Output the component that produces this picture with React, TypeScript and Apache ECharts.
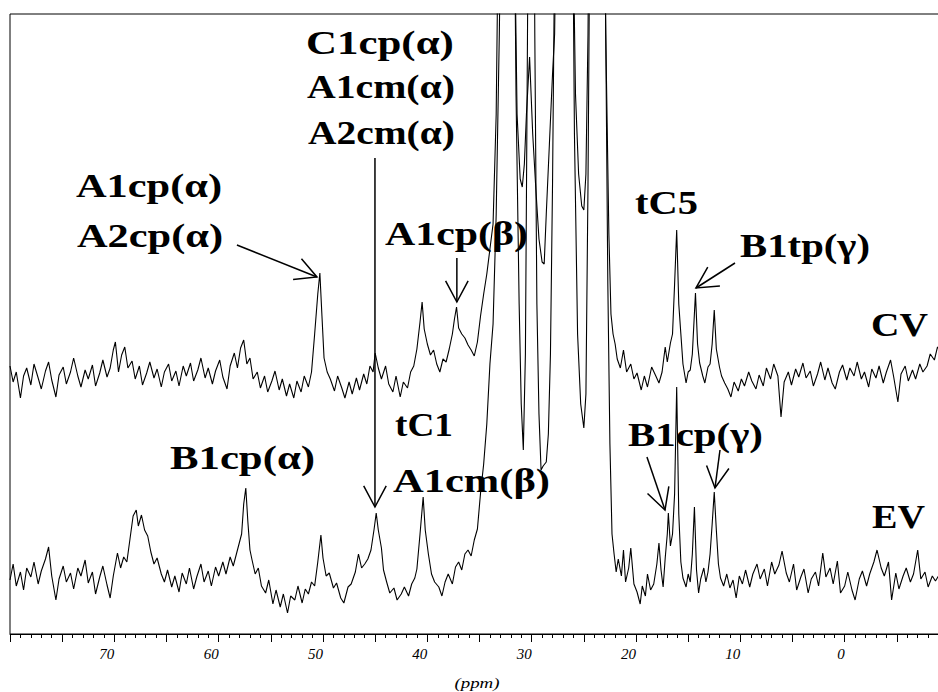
import React, { useEffect, useRef } from 'react';
import * as echarts from 'echarts';

// x-axis tick labels (ppm)
const xTickLabels = [70, 60, 50, 40, 30, 20, 10, 0];

// CV trace: [ppm, intensity]
const cvSpectrum: [number, number][] = [
  [80.0,268],[79.7,252],[79.4,262],[79.0,236],[78.7,258],[78.4,266],[78.0,249],[77.7,270],[77.3,256],[77.0,245],
  [76.6,263],[76.3,272],[76.0,254],[75.6,237],[75.3,259],[74.9,267],[74.6,250],[74.2,262],[73.9,276],[73.5,258],
  [73.2,247],[72.8,264],[72.5,255],[72.1,269],[71.8,248],[71.4,261],[71.1,274],[70.7,257],[70.4,266],[70.1,284],
  [69.9,292],[69.6,262],[69.3,279],[69.0,287],[68.7,266],[68.3,273],[68.0,255],[67.6,268],[67.3,249],[66.9,261],
  [66.6,272],[66.2,256],[65.9,265],[65.5,247],[65.2,262],[64.8,270],[64.5,253],[64.1,263],[63.8,248],[63.4,268],
  [63.1,258],[62.7,271],[62.4,253],[62.0,264],[61.7,276],[61.3,256],[61.0,266],[60.6,250],[60.3,263],[59.9,274],
  [59.6,257],[59.2,245],[58.9,268],[58.5,281],[58.2,266],[57.9,286],[57.6,294],[57.3,270],[57.0,276],[56.7,255],
  [56.3,262],[56.0,246],[55.6,258],[55.3,242],[54.9,253],[54.6,263],[54.2,244],[53.9,255],[53.5,238],[53.2,250],
  [52.8,236],[52.5,253],[52.1,242],[51.8,258],[51.4,247],[51.1,262],[50.8,300],[50.5,340],[50.3,361],[50.1,318],
  [49.9,276],[49.6,262],[49.3,255],[48.9,243],[48.6,258],[48.2,246],[47.9,236],[47.5,252],[47.2,240],[46.8,256],
  [46.5,244],[46.1,260],[45.8,250],[45.5,268],[45.2,262],[45.0,281],[44.7,266],[44.4,255],[44.0,268],[43.7,250],
  [43.3,242],[43.0,258],[42.6,237],[42.3,252],[41.9,246],[41.6,262],[41.3,268],[41.0,285],[40.7,312],[40.5,332],
  [40.3,305],[40.0,290],[39.7,279],[39.4,284],[39.1,270],[38.8,262],[38.5,275],[38.2,272],[37.9,285],[37.6,300],
  [37.4,315],[37.2,327],[37.0,306],[36.7,300],[36.4,296],[36.1,289],[35.8,284],[35.5,278],[35.2,292],[34.9,318],
  [34.6,340],[34.3,360],[34.0,385],[33.7,410],[33.4,520],[33.1,800],[32.8,1150],[32.4,1250],[32.0,1150],[31.7,750],
  [31.4,520],[31.1,455],[30.9,447],[30.7,470],[30.5,520],[30.2,577],[29.9,500],[29.6,445],[29.3,395],[29.0,372],
  [28.8,370],[28.6,420],[28.3,490],[28.0,560],[27.8,600],[27.5,850],[27.2,1200],[26.8,1300],[26.4,1200],[26.1,750],
  [25.8,540],[25.5,460],[25.2,428],[25.0,424],[24.8,460],[24.6,600],[24.3,1000],[23.9,1400],[23.5,1300],[23.2,900],
  [22.9,600],[22.6,400],[22.4,320],[22.2,300],[22.0,290],[21.8,275],[21.5,266],[21.2,284],[20.9,262],[20.5,270],
  [20.2,255],[19.9,261],[19.5,244],[19.2,258],[18.9,247],[18.5,267],[18.1,258],[17.8,251],[17.5,262],[17.2,287],
  [17.0,272],[16.7,291],[16.5,300],[16.3,350],[16.1,404],[15.9,330],[15.7,300],[15.5,270],[15.2,251],[15.0,262],
  [14.8,264],[14.6,280],[14.3,341],[14.1,290],[13.9,271],[13.6,258],[13.4,251],[13.1,267],[12.9,270],[12.7,290],
  [12.5,324],[12.3,285],[12.0,267],[11.8,258],[11.5,251],[11.2,245],[10.9,237],[10.6,252],[10.2,243],[9.9,255],
  [9.6,248],[9.2,262],[8.9,253],[8.5,245],[8.2,259],[7.8,248],[7.5,266],[7.1,255],[6.8,270],[6.4,258],
  [6.1,217],[5.8,252],[5.4,262],[5.1,249],[4.7,265],[4.4,257],[4.0,271],[3.7,256],[3.3,263],[3.0,248],
  [2.6,260],[2.3,272],[1.9,254],[1.6,266],[1.2,251],[0.9,245],[0.5,262],[0.2,269],[-0.2,254],[-0.5,266],
  [-0.9,258],[-1.2,272],[-1.6,255],[-1.9,262],[-2.3,247],[-2.6,265],[-3.0,256],[-3.3,268],[-3.7,251],[-4.0,262],
  [-4.4,274],[-4.7,257],[-5.1,232],[-5.4,260],[-5.8,268],[-6.1,253],[-6.5,264],[-6.8,255],[-7.2,270],[-7.5,262],
  [-7.9,268],[-8.2,280],[-8.6,274],[-8.9,287],[-9.3,282],[-10.0,275],
];

// EV trace: [ppm, intensity]
const evSpectrum: [number, number][] = [
  [80.0,54],[79.7,70],[79.4,48],[79.0,62],[78.7,44],[78.4,66],[78.0,57],[77.7,72],[77.3,50],[77.0,63],
  [76.6,75],[76.3,87],[76.0,58],[75.6,34],[75.3,55],[74.9,68],[74.6,52],[74.2,61],[73.9,45],[73.5,66],
  [73.2,58],[72.8,74],[72.5,51],[72.1,62],[71.8,40],[71.4,57],[71.1,68],[70.7,49],[70.4,36],[70.1,58],
  [69.7,81],[69.4,66],[69.1,77],[68.8,72],[68.5,95],[68.2,118],[67.9,124],[67.7,108],[67.4,119],[67.1,104],
  [66.8,98],[66.5,82],[66.2,70],[65.9,76],[65.5,60],[65.2,52],[64.9,64],[64.5,47],[64.2,58],[63.8,42],
  [63.5,61],[63.1,50],[62.8,66],[62.4,45],[62.1,57],[61.7,70],[61.4,52],[61.0,63],[60.7,48],[60.3,67],
  [60.0,58],[59.6,72],[59.3,60],[58.9,77],[58.6,68],[58.3,80],[58.0,92],[57.8,100],[57.6,130],[57.4,146],
  [57.2,112],[57.0,84],[56.8,74],[56.5,60],[56.2,66],[55.9,48],[55.5,41],[55.2,54],[54.8,30],[54.5,44],
  [54.1,27],[53.8,40],[53.4,21],[53.1,38],[52.7,34],[52.4,48],[52.0,31],[51.7,45],[51.4,40],[51.1,52],
  [50.8,48],[50.5,72],[50.2,99],[50.0,76],[49.7,58],[49.4,61],[49.0,46],[48.7,51],[48.3,36],[48.0,31],
  [47.6,47],[47.3,50],[46.9,62],[46.6,80],[46.3,66],[46.0,70],[45.7,75],[45.4,84],[45.1,105],[44.9,121],
  [44.7,104],[44.4,86],[44.2,64],[43.9,52],[43.6,41],[43.2,46],[42.9,34],[42.5,40],[42.2,47],[41.8,38],
  [41.5,50],[41.2,56],[41.0,65],[40.7,100],[40.4,137],[40.2,104],[39.9,80],[39.6,60],[39.3,52],[38.9,47],
  [38.6,38],[38.3,52],[38.0,60],[37.6,50],[37.3,67],[37.0,72],[36.7,64],[36.4,80],[36.1,84],[35.8,78],
  [35.5,94],[35.2,105],[34.9,141],[34.6,170],[34.3,210],[34.0,270],[33.7,310],[33.4,420],[33.1,600],[32.8,850],
  [32.5,1100],[32.1,1200],[31.8,900],[31.5,540],[31.2,330],[31.0,230],[30.8,184],[30.6,280],[30.4,600],[30.1,1100],
  [29.9,1000],[29.7,600],[29.5,330],[29.3,220],[29.1,164],[28.9,168],[28.6,172],[28.4,200],[28.2,280],[28.0,450],
  [27.7,800],[27.4,1200],[27.0,1400],[26.5,1300],[26.2,900],[25.9,500],[25.6,300],[25.3,230],[25.0,206],[24.8,240],
  [24.6,450],[24.3,900],[24.0,1300],[23.6,1400],[23.2,1000],[22.9,600],[22.7,350],[22.5,190],[22.3,100],[22.1,80],
  [21.9,62],[21.7,75],[21.4,58],[21.2,84],[21.0,52],[20.7,66],[20.5,86],[20.2,50],[19.9,42],[19.6,30],
  [19.4,48],[19.1,38],[18.9,60],[18.6,44],[18.3,50],[18.0,70],[17.8,91],[17.6,64],[17.4,47],[17.2,76],
  [17.0,100],[16.9,121],[16.7,88],[16.5,100],[16.3,140],[16.1,247],[15.9,120],[15.7,72],[15.5,56],[15.2,47],
  [15.0,60],[14.8,52],[14.6,80],[14.4,127],[14.2,64],[14.0,41],[13.8,55],[13.5,66],[13.3,52],[13.1,62],
  [12.9,80],[12.7,110],[12.5,142],[12.3,104],[12.1,70],[11.9,56],[11.6,48],[11.3,60],[11.0,46],[10.7,54],
  [10.4,36],[10.1,58],[9.8,50],[9.5,64],[9.1,47],[8.8,60],[8.4,70],[8.1,55],[7.7,65],[7.4,48],
  [7.0,72],[6.7,60],[6.3,69],[6.0,83],[5.6,61],[5.3,52],[4.9,70],[4.6,44],[4.2,57],[3.9,65],
  [3.5,41],[3.2,55],[2.8,62],[2.5,48],[2.1,81],[1.8,57],[1.4,66],[1.1,50],[0.7,73],[0.4,41],
  [0.0,48],[-0.3,62],[-0.7,44],[-1.0,34],[-1.4,55],[-1.7,63],[-2.1,48],[-2.4,60],[-2.8,72],[-3.1,84],
  [-3.5,66],[-3.8,58],[-4.2,72],[-4.5,34],[-4.9,61],[-5.2,45],[-5.6,58],[-5.9,66],[-6.3,52],[-6.6,60],
  [-7.0,84],[-7.3,55],[-7.7,62],[-8.0,47],[-8.4,58],[-8.7,53],[-9.1,60],[-10.0,55],
];

// peak annotation texts
const labelTexts = [
  'C1cp(α)', 'A1cm(α)', 'A2cm(α)', 'A1cp(α)', 'A2cp(α)', 'A1cp(β)', 'tC5',
  'B1tp(γ)', 'CV', 'tC1', 'A1cm(β)', 'B1cp(α)', 'B1cp(γ)', 'EV',
];

// arrows in data coordinates: [ppm, intensity] from -> to (tip)
const arrowFrom: [number, number][] = [
  [58.25, 389], [45.02, 476], [37.17, 376], [10.51, 371], [18.95, 177], [11.95, 184],
];
const arrowTo: [number, number][] = [
  [50.58, 357], [45.02, 127], [37.17, 332], [14.25, 346], [17.22, 124], [12.43, 146],
];

// layout of annotation texts (pixels): left, cap-center y, target width
const labelLayout = [
  [306, 43, 148], [307, 87, 148], [308, 133, 147], [76, 186, 146], [77, 236, 146],
  [385, 234, 143], [635, 203, 63], [740, 246, 130], [871, 325, 57], [395, 425, 58],
  [393, 481, 157], [170, 458, 145], [628, 435, 135], [872, 517, 53],
];

const SERIF = "Liberation Serif";

export default function App() {
  const ref = useRef<HTMLDivElement>(null);

  useEffect(() => {
    document.body.style.margin = '0';
    const chart = echarts.init(ref.current!, null, { renderer: 'svg' });
    chart.setOption({
      animation: false,
      backgroundColor: '#fff',
      grid: {
        left: 10, top: 14, width: 939, height: 620,
        show: true, borderColor: '#000', borderWidth: 1,
        containLabel: false, outerBoundsMode: 'none',
      },
      xAxis: {
        type: 'value', min: -10, max: 80, interval: 5, inverse: true,
        axisLine: { lineStyle: { color: '#000', width: 1 } },
        axisTick: { show: true, length: 8, lineStyle: { color: '#000' } },
        minorTick: { show: true, splitNumber: 5, length: 4, lineStyle: { color: '#000' } },
        splitLine: { show: false },
        minorSplitLine: { show: false },
        axisLabel: {
          formatter: (v: number) => (xTickLabels.includes(v) ? String(v) : ''),
          fontFamily: SERIF, fontStyle: 'italic', fontSize: 15, color: '#000',
          margin: 12, align: 'right',
        },
      },
      yAxis: { type: 'value', min: 0, max: 620, show: false },
      series: [
        {
          name: 'CV', type: 'line', data: cvSpectrum, showSymbol: false, symbol: 'none',
          lineStyle: { color: '#000', width: 1.1 }, clip: true, silent: true,
        },
        {
          name: 'EV', type: 'line', data: evSpectrum, showSymbol: false, symbol: 'none',
          lineStyle: { color: '#000', width: 1.1 }, clip: true, silent: true,
        },
      ],
    });

    const ctx = document.createElement('canvas').getContext('2d')!;
    const fontSize = 33;
    ctx.font = `bold ${fontSize}px "Liberation Serif"`;

    const graphic: any[] = [];
    labelTexts.forEach((t, i) => {
      const [left, cy, w] = labelLayout[i];
      const natural = ctx.measureText(t).width || w;
      graphic.push({
        type: 'text', x: left, y: cy, scaleX: w / natural, originX: 0, originY: 0,
        silent: true,
        style: {
          text: t, fontSize, fontWeight: 'bold', fontFamily: SERIF, fill: '#000',
          align: 'left', verticalAlign: 'middle', textAlign: 'left', textVerticalAlign: 'middle',
        },
      });
    });

    const L = 24;
    const ang = (28 * Math.PI) / 180;
    arrowFrom.forEach((f, i) => {
      const p0 = chart.convertToPixel({ gridIndex: 0 }, f) as number[];
      const p1 = chart.convertToPixel({ gridIndex: 0 }, arrowTo[i]) as number[];
      const dx = p1[0] - p0[0];
      const dy = p1[1] - p0[1];
      const len = Math.hypot(dx, dy);
      const ux = dx / len, uy = dy / len;
      const arm = (a: number) => [
        p1[0] - L * (ux * Math.cos(a) - uy * Math.sin(a)),
        p1[1] - L * (ux * Math.sin(a) + uy * Math.cos(a)),
      ];
      graphic.push({
        type: 'line', silent: true,
        shape: { x1: p0[0], y1: p0[1], x2: p1[0], y2: p1[1] },
        style: { stroke: '#000', lineWidth: 1.5 },
      });
      graphic.push({
        type: 'polyline', silent: true,
        shape: { points: [arm(ang), p1, arm(-ang)] },
        style: { stroke: '#000', lineWidth: 1.5, fill: null },
      });
    });

    graphic.push({
      type: 'text', x: 477, y: 683, scaleX: 1.35, silent: true,
      style: {
        text: '(ppm)', fontSize: 14, fontStyle: 'italic', fontFamily: SERIF, fill: '#000',
        align: 'center', verticalAlign: 'middle', textAlign: 'center', textVerticalAlign: 'middle',
      },
    });

    chart.setOption({ graphic });
    return () => chart.dispose();
  }, []);

  return <div ref={ref} style={{ width: 938, height: 692 }} />;
}
